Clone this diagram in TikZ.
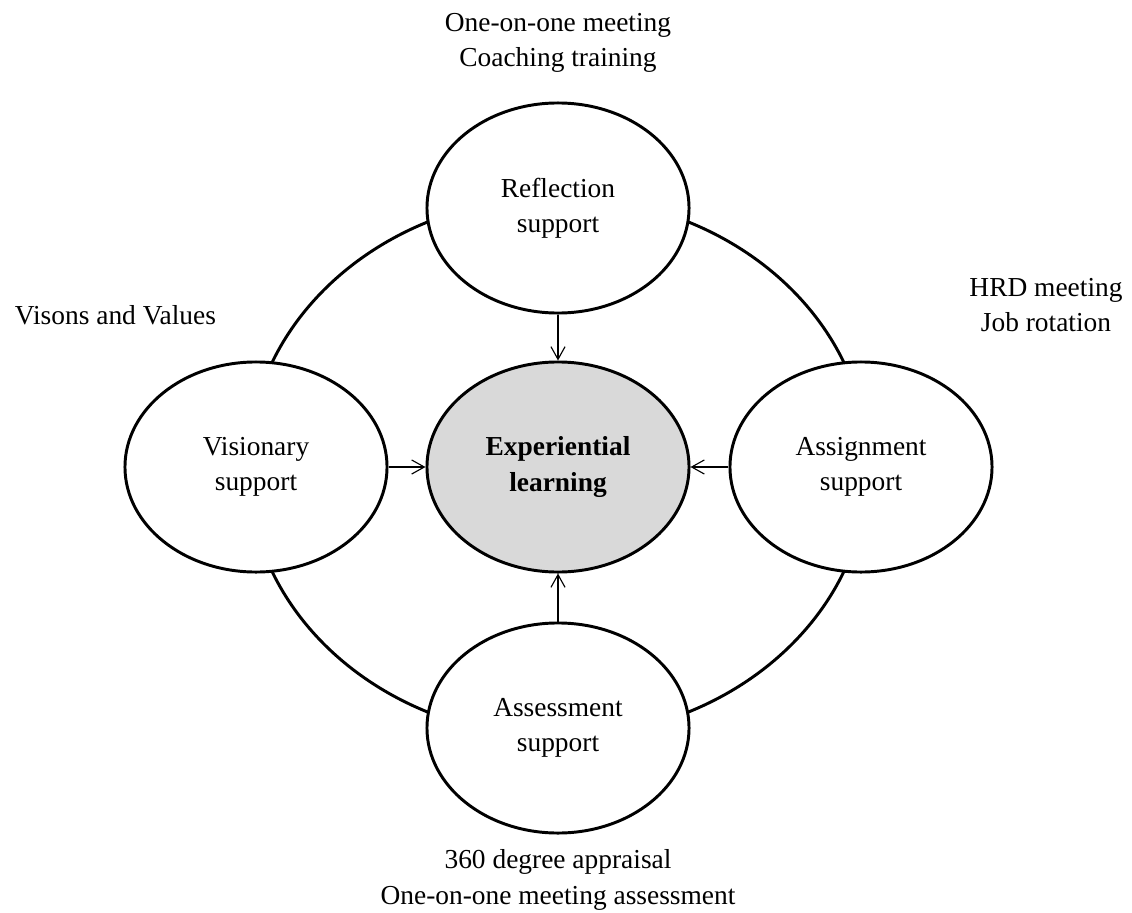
\documentclass[tikz,border=0pt]{standalone}
\usepackage{fontspec}
\setmainfont{Liberation Serif}
\usetikzlibrary{shapes.geometric}
\usetikzlibrary{arrows.meta}
\definecolor{coregray}{RGB}{217,217,217}
\tikzstyle{txt}=[font=\fontsize{19.5}{25}\selectfont]
\tikzstyle{support}=[txt, ellipse, draw, line width=2.1pt, fill=white, minimum width=6.55cm, minimum height=5.25cm, inner sep=0pt, align=center]
\tikzstyle{core}=[support, fill=coregray, font=\fontsize{19.5}{25}\selectfont\bfseries]
\tikzstyle{feed}=[-{Straight Barb[length=9pt, width=10pt]}, line width=0.8pt]
\tikzstyle{note}=[txt, align=center]

\begin{document}
\begin{tikzpicture}[x=0.025cm, y=-0.025cm]
          \useasboundingbox (0,0) rectangle (1132,913);
          % ring behind the four supports
          \draw[line width=2.1pt] (558,467) ellipse [x radius=310, y radius=270];
          \node[support] (reflect) at (558,208) {Reflection\\support};
          \node[support] (vision) at (256,467) {Visionary\\support};
          \node[support] (assign) at (861,467) {Assignment\\support};
          \node[support] (assess) at (558,728) {Assessment\\support};
          \node[core] (exp) at (558,467) {Experiential\\learning};
          \draw[feed] (reflect) -- (exp);
          \draw[feed] (vision) -- (exp);
          \draw[feed] (assign) -- (exp);
          \draw[feed] (assess) -- (exp);
          % practices next to each support
          \node[note] (reflectnote) at (558,43) {One-on-one meeting\\Coaching training};
          \node[note, anchor=west] (visionnote) at (10,315) {Visons and Values};
          \node[note] (assignnote) at (1046,305) {HRD meeting\\Job rotation};
          \node[note] (assessnote) at (558,880) {360 degree appraisal\\One-on-one meeting assessment};
        \end{tikzpicture}
\end{document}
